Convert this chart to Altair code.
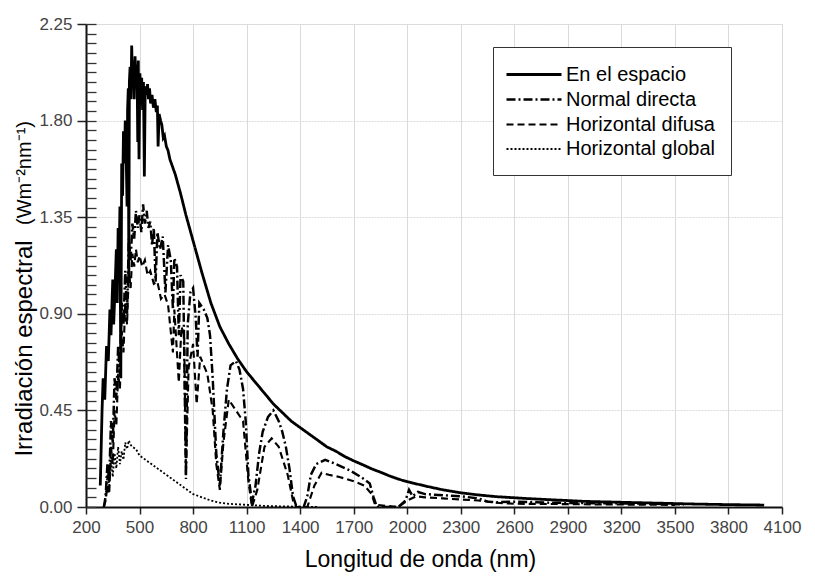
import altair as alt
import pandas as pd

# ---------------- data ----------------
space_nm = [280, 290, 296, 305, 315, 325, 334, 340, 350, 355, 362, 370, 375, 380, 385, 390, 395,
            400, 405, 410, 415, 420, 425, 430, 433, 437, 440, 443, 447, 452, 456, 460, 465, 470,
            475, 480, 486, 490, 493, 497, 502, 507, 512, 517, 522, 527, 532, 540, 545, 550, 556,
            562, 570, 578, 586, 594, 600, 604, 610, 618, 625, 633, 640, 650, 660, 670, 700, 730,
            760, 800, 850, 900, 950, 1000, 1050, 1100, 1150, 1200, 1250, 1300, 1350, 1400, 1450,
            1500, 1550, 1600, 1650, 1700, 1750, 1800, 1850, 1900, 1950, 2000, 2100, 2200, 2300,
            2400, 2500, 2600, 2700, 2800, 2900, 3000, 3200, 3400, 3600, 3800, 4000]
space_val = [0.10, 0.45, 0.60, 0.50, 0.75, 0.68, 0.92, 0.80, 1.06, 0.85, 1.00, 1.20, 0.95, 1.30, 1.10, 1.40, 0.60,
             1.60, 1.45, 1.75, 1.60, 1.80, 1.65, 1.40, 1.85, 1.95, 1.05, 1.98, 2.05, 1.90, 2.15, 2.00, 2.08, 1.90,
             2.10, 1.95, 2.06, 1.70, 2.08, 1.62, 2.02, 1.95, 2.00, 1.85, 1.98, 1.54, 1.96, 1.92, 1.97, 1.90, 1.95,
             1.88, 1.92, 1.86, 1.90, 1.84, 1.87, 1.68, 1.83, 1.80, 1.78, 1.72, 1.73, 1.68, 1.66, 1.62, 1.55, 1.46,
             1.36, 1.24, 1.09, 0.95, 0.84, 0.76, 0.69, 0.63, 0.58, 0.53, 0.48, 0.44, 0.40, 0.37, 0.34,
             0.31, 0.28, 0.26, 0.235, 0.215, 0.197, 0.178, 0.162, 0.145, 0.130, 0.118, 0.098, 0.080, 0.066,
             0.056, 0.048, 0.043, 0.038, 0.034, 0.030, 0.026, 0.022, 0.018, 0.014, 0.011, 0.009]

directa_nm = [300, 310, 320, 330, 340, 350, 360, 370, 380, 390, 400, 410, 420, 430, 440, 450, 460,
              470, 480, 490, 500, 510, 520, 530, 540, 550, 560, 570, 580, 590, 600, 615, 630, 645,
              660, 675, 687, 695, 710, 720, 730, 745, 760, 770, 785, 800, 815, 825, 835, 860, 880,
              895, 910, 930, 950, 970, 990, 1010, 1040, 1060, 1080, 1095, 1110, 1130, 1150, 1170,
              1190, 1220, 1250, 1280, 1300, 1320, 1340, 1360, 1380, 1420, 1440, 1460, 1490, 1540,
              1600, 1680, 1740, 1790, 1810, 1830, 1950, 1990, 2010, 2030, 2060, 2100, 2200, 2300,
              2400, 2450, 2500, 2600, 2800, 3000, 3300, 3550]
directa_val = [0.00, 0.05, 0.20, 0.12, 0.40, 0.30, 0.60, 0.50, 0.75, 0.62, 0.95, 0.85, 1.10, 0.90, 1.25, 1.15, 1.32,
               1.25, 1.38, 1.30, 1.36, 1.28, 1.41, 1.32, 1.38, 1.30, 1.33, 1.22, 1.30, 1.05, 1.28, 1.20, 1.26, 1.00,
               1.22, 1.15, 0.92, 1.16, 1.12, 0.80, 1.08, 1.05, 0.13, 0.85, 1.00, 1.02, 0.88, 0.70, 0.95, 0.92, 0.88,
               0.80, 0.60, 0.25, 0.10, 0.35, 0.55, 0.66, 0.68, 0.64, 0.55, 0.40, 0.15, 0.02, 0.10, 0.25,
               0.35, 0.42, 0.45, 0.40, 0.35, 0.28, 0.18, 0.05, 0.00, 0.00, 0.05, 0.15, 0.20, 0.22,
               0.20, 0.17, 0.14, 0.11, 0.05, 0.00, 0.00, 0.03, 0.08, 0.05, 0.07, 0.06, 0.055, 0.05,
               0.04, 0.025, 0.022, 0.025, 0.02, 0.018, 0.016, 0.012]

difusa_nm = [300, 310, 320, 330, 340, 350, 360, 370, 380, 390, 400, 410, 420, 430, 440, 450, 460,
             470, 480, 490, 500, 515, 530, 545, 560, 580, 600, 620, 640, 660, 687, 695, 720, 735,
             750, 760, 775, 800, 820, 840, 880, 910, 930, 950, 970, 1000, 1040, 1080, 1110, 1130,
             1160, 1200, 1240, 1280, 1330, 1360, 1380, 1440, 1480, 1520, 1560, 1620, 1700, 1760,
             1800, 1820, 1950, 2000, 2050, 2100, 2200, 2300, 2400, 2500, 2600, 2800, 3100, 3500]
difusa_val = [0.00, 0.03, 0.10, 0.06, 0.28, 0.20, 0.45, 0.38, 0.62, 0.55, 0.82, 0.72, 0.95, 0.85, 1.10, 1.02, 1.18,
              1.12, 1.20, 1.14, 1.17, 1.12, 1.15, 1.08, 1.10, 1.04, 1.05, 0.97, 0.99, 0.94, 0.72, 0.92, 0.58, 0.84,
              0.80, 0.15, 0.65, 0.76, 0.48, 0.70, 0.62, 0.45, 0.20, 0.08, 0.30, 0.50, 0.45, 0.40, 0.12, 0.00,
              0.08, 0.28, 0.32, 0.28, 0.15, 0.03, 0.00, 0.00, 0.10, 0.16, 0.15, 0.14, 0.12, 0.10,
              0.06, 0.01, 0.00, 0.03, 0.05, 0.045, 0.04, 0.035, 0.03, 0.02, 0.015, 0.014, 0.012, 0.01]

global_nm = [310, 320, 330, 340, 350, 360, 370, 380, 390, 400, 410, 420, 430, 440, 450, 460, 480, 500,
             550, 600, 650, 700, 750, 800, 850, 900, 950, 1000, 1100, 1200, 1300, 1500]
global_val = [0.05, 0.15, 0.10, 0.22, 0.14, 0.25, 0.18, 0.28, 0.20, 0.26, 0.22, 0.30, 0.27, 0.31, 0.29, 0.28,
              0.27, 0.24, 0.21, 0.18, 0.15, 0.12, 0.09, 0.06, 0.045, 0.03, 0.02, 0.015, 0.01, 0.005, 0.003, 0.0]

series = ["En el espacio", "Normal directa", "Horizontal difusa", "Horizontal global"]
x_ticks = [200, 500, 800, 1100, 1400, 1700, 2000, 2300, 2600, 2900, 3200, 3500, 3800, 4100]
y_ticks = [0.0, 0.45, 0.90, 1.35, 1.80, 2.25]
y_minor = [round(k * 0.045, 3) for k in range(51)]

rows = []
for name, xs, ys in zip(series, [space_nm, directa_nm, difusa_nm, global_nm],
                        [space_val, directa_val, difusa_val, global_val]):
    for a, b in zip(xs, ys):
        rows.append({"nm": a, "val": b, "serie": name})
df = pd.DataFrame(rows)

FONT = "Liberation Sans"

xscale = alt.Scale(domain=[200, 4100], nice=False, zero=False)
yscale = alt.Scale(domain=[0, 2.25], nice=False, zero=False)

lines = alt.Chart(df).mark_line(color="black", clip=True, strokeJoin="miter").encode(
    x=alt.X("nm:Q", scale=xscale,
            axis=alt.Axis(values=x_ticks, format="d", title="Longitud de onda (nm)", labelFontSize=17,
                          labelColor="#444", labelFont=FONT, tickSize=7, labelPadding=5,
                          tickColor="#222", domainColor="#111", domainWidth=2, tickWidth=1.5,
                          gridColor="#dadada", gridWidth=1, labelFlush=False,
                          titleFont=FONT, titleFontSize=23, titleFontWeight="normal",
                          titleColor="black", titleX=334, titleY=59, titleBaseline="alphabetic")),
    y=alt.Y("val:Q", scale=yscale,
            axis=alt.Axis(values=y_ticks, format=".2f", title="Irradiación espectral",
                          labelFontSize=17, labelColor="#444", labelFont=FONT, tickSize=9,
                          labelPadding=5, tickColor="#222", domainColor="#111", domainWidth=2,
                          tickWidth=1.5, gridColor="#dadada", gridWidth=1, gridDash=[2, 1],
                          titleFont=FONT, titleFontSize=24, titleFontWeight="normal",
                          titleColor="black", titleAngle=270, titleX=-55, titleY=324,
                          titleAlign="center", titleBaseline="alphabetic")),
    strokeDash=alt.StrokeDash("serie:N", sort=series,
                              scale=alt.Scale(domain=series,
                                              range=[[1, 0], [9, 3, 2, 3], [7, 4], [2, 2]]),
                              legend=alt.Legend(title=None, orient="none", legendX=407, legendY=23,
                                                symbolType="M-1.4,0H4.1", symbolSize=400,
                                                symbolStrokeWidth=2, symbolStrokeColor="black",
                                                labelFontSize=20, labelFont=FONT, labelColor="black",
                                                labelOffset=34, padding=16, rowPadding=3,
                                                strokeColor="#333", fillColor="white",
                                                labelLimit=400)),
    strokeWidth=alt.StrokeWidth("serie:N", sort=series,
                                scale=alt.Scale(domain=series, range=[2.8, 1.8, 1.8, 1.7]),
                                legend=None),
)

minor = alt.Chart(df).mark_point(opacity=0).encode(
    y=alt.Y("val:Q", scale=yscale,
            axis=alt.Axis(values=y_minor, orient="left", offset=-10, tickSize=10, labels=False,
                          domain=False, grid=False, title=None, tickColor="#333", tickWidth=1.3)),
)

units = alt.Chart(pd.DataFrame({"t": ["(Wm⁻²nm⁻¹)"]})).mark_text(
    angle=270, fontSize=20, font=FONT, color="black", align="center", baseline="alphabetic"
).encode(text="t:N", x=alt.value(-55), y=alt.value(149))

chart = alt.layer(lines, minor, units).resolve_axis(y="independent").properties(
    width=696, height=483,
    autosize=alt.AutoSizeParams(type="none"),
    padding={"left": 86, "top": 24, "right": 33, "bottom": 71},
).configure_view(stroke="#333", strokeWidth=2).configure(background="white")

chart.save("out.html", embed_options={"renderer": "svg", "actions": False})
